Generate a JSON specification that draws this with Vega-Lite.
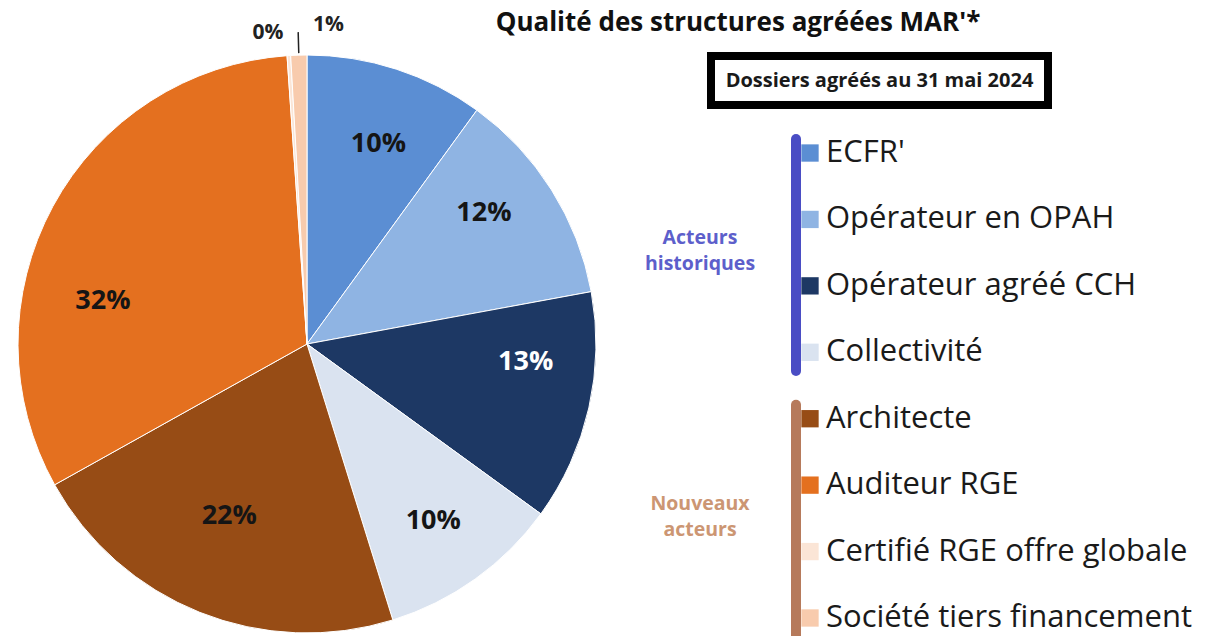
{
  "$schema": "https://vega.github.io/schema/vega-lite/v6.json",
  "padding": {"top": 10, "left": 0, "right": 0, "bottom": 0},
  "background": "white",
  "spacing": 0,
  "bounds": "flush",
  "config": {"view": {"stroke": null}, "font": "Open Sans"},
  "datasets": {
    "shares": [
      {"cat": "ECFR'", "share": 0.100, "k": 1},
      {"cat": "Opérateur en OPAH", "share": 0.121, "k": 2},
      {"cat": "Opérateur agréé CCH", "share": 0.129, "k": 3},
      {"cat": "Collectivité", "share": 0.102, "k": 4},
      {"cat": "Architecte", "share": 0.217, "k": 5},
      {"cat": "Auditeur RGE", "share": 0.320, "k": 6},
      {"cat": "Certifié RGE offre globale", "share": 0.002, "k": 7},
      {"cat": "Société tiers financement", "share": 0.009, "k": 8}
    ],
    "groups": [
      {"group": "Acteurs\nhistoriques", "first": "ECFR'", "last": "Collectivité", "anchor": "Opérateur en OPAH"},
      {"group": "Nouveaux\nacteurs", "first": "Architecte", "last": "Société tiers financement", "anchor": "Auditeur RGE"}
    ],
    "note": [{"note": "Dossiers agréés au 31 mai 2024"}]
  },
  "resolve": {"scale": {"color": "shared"}},
  "hconcat": [
    {
      "width": 614,
      "height": 576,
      "data": {"name": "shares"},
      "encoding": {
        "theta": {"field": "share", "type": "quantitative", "stack": true},
        "order": {"field": "k", "type": "quantitative"},
        "color": {
          "field": "cat",
          "type": "nominal",
          "scale": {
            "domain": ["ECFR'", "Opérateur en OPAH", "Opérateur agréé CCH", "Collectivité", "Architecte", "Auditeur RGE", "Certifié RGE offre globale", "Société tiers financement"],
            "range": ["#5b8ed3", "#8fb4e3", "#1d3864", "#dae3f0", "#974c15", "#e4701f", "#fbe5d6", "#f8cbad"]
          },
          "legend": null
        },
        "text": {"field": "share", "type": "quantitative", "format": ".0%"}
      },
      "layer": [
        {"mark": {"type": "arc", "outerRadius": 289, "stroke": "white", "strokeWidth": 1}},
        {
          "mark": {"type": "arc", "innerRadius": 291, "outerRadius": 312, "padAngle": 1, "stroke": "#222222", "strokeWidth": 1.5, "fillOpacity": 0},
          "encoding": {
            "strokeOpacity": {"condition": {"test": "datum.k === 8", "value": 1}, "value": 0}
          }
        },
        {
          "mark": {"type": "text", "radius": 215, "fontSize": 27, "fontWeight": "bold", "font": "Open Sans", "dx": 5, "dy": 4},
          "encoding": {"color": {"value": "#151515"}, "opacity": {"condition": {"test": "datum.k === 1", "value": 1}, "value": 0}}
        },
        {
          "mark": {"type": "text", "radius": 215, "fontSize": 27, "fontWeight": "bold", "font": "Open Sans", "dx": -5, "dy": -16},
          "encoding": {"color": {"value": "#151515"}, "opacity": {"condition": {"test": "datum.k === 2", "value": 1}, "value": 0}}
        },
        {
          "mark": {"type": "text", "radius": 215, "fontSize": 27, "fontWeight": "bold", "font": "Open Sans", "dx": 9, "dy": -30},
          "encoding": {"color": {"value": "white"}, "opacity": {"condition": {"test": "datum.k === 3", "value": 1}, "value": 0}}
        },
        {
          "mark": {"type": "text", "radius": 215, "fontSize": 27, "fontWeight": "bold", "font": "Open Sans", "dx": 1, "dy": 2},
          "encoding": {"color": {"value": "#151515"}, "opacity": {"condition": {"test": "datum.k === 4", "value": 1}, "value": 0}}
        },
        {
          "mark": {"type": "text", "radius": 215, "fontSize": 27, "fontWeight": "bold", "font": "Open Sans", "dx": 2, "dy": -28},
          "encoding": {"color": {"value": "#151515"}, "opacity": {"condition": {"test": "datum.k === 5", "value": 1}, "value": 0}}
        },
        {
          "mark": {"type": "text", "radius": 215, "fontSize": 27, "fontWeight": "bold", "font": "Open Sans", "dx": -15, "dy": 59},
          "encoding": {"color": {"value": "#151515"}, "opacity": {"condition": {"test": "datum.k === 6", "value": 1}, "value": 0}}
        },
        {
          "mark": {"type": "text", "radius": 270, "fontSize": 21, "fontWeight": "bold", "font": "Open Sans", "align": "center", "dx": -22, "dy": -42},
          "encoding": {"color": {"value": "#222222"}, "opacity": {"condition": {"test": "datum.k === 7", "value": 1}, "value": 0}}
        },
        {
          "mark": {"type": "text", "radius": 270, "fontSize": 21, "fontWeight": "bold", "font": "Open Sans", "align": "center", "dx": 29, "dy": -49},
          "encoding": {"color": {"value": "#222222"}, "opacity": {"condition": {"test": "datum.k === 8", "value": 1}, "value": 0}}
        }
      ]
    },
    {
      "title": {"text": "Qualité des structures agréées MAR'*", "fontSize": 26, "font": "Open Sans", "fontWeight": "bold", "color": "#111111", "anchor": "middle", "frame": "group", "dx": 124, "offset": 16},
      "spacing": 16,
      "center": true,
      "bounds": "flush",
      "vconcat": [
        {
          "width": 337,
          "height": 49,
          "view": {"stroke": "black", "strokeWidth": 8},
          "data": {"name": "note"},
          "mark": {"type": "text", "fontSize": 20, "fontWeight": "bold", "font": "Open Sans", "color": "#1a1a1a"},
          "encoding": {"text": {"field": "note", "type": "nominal"}}
        },
        {
          "width": 531,
          "height": 529,
          "layer": [
            {
              "data": {"name": "groups"},
              "mark": {"type": "rule", "x": 182, "strokeWidth": 10, "strokeCap": "round"},
              "encoding": {
                "y": {"field": "first", "type": "nominal", "bandPosition": 0.2, "scale": {"type": "band", "domain": ["ECFR'", "Opérateur en OPAH", "Opérateur agréé CCH", "Collectivité", "Architecte", "Auditeur RGE", "Certifié RGE offre globale", "Société tiers financement"], "paddingInner": 0.3, "paddingOuter": 0.132}, "axis": null},
                "y2": {"field": "last", "bandPosition": 0.9},
                "color": {"condition": {"test": "indexof(datum.group, 'Acteurs') === 0", "value": "#4a4dc4"}, "value": "#b67a5b"}
              }
            },
            {
              "data": {"name": "groups"},
              "mark": {"type": "text", "x": 86, "align": "center", "baseline": "middle", "fontSize": 19.5, "fontWeight": "bold", "font": "Open Sans", "lineBreak": "\n", "lineHeight": 26},
              "encoding": {
                "y": {"field": "anchor", "type": "nominal", "bandPosition": 0.9},
                "text": {"field": "group", "type": "nominal"},
                "color": {"condition": {"test": "indexof(datum.group, 'Acteurs') === 0", "value": "#5d5fcb"}, "value": "#cc9673"}
              }
            },
            {
              "data": {"name": "shares"},
              "mark": {"type": "point", "shape": "square", "filled": true, "opacity": 1, "size": 300, "x": 196},
              "encoding": {
                "y": {"field": "cat", "type": "nominal"},
                "color": {"field": "cat", "type": "nominal", "legend": null}
              }
            },
            {
              "data": {"name": "shares"},
              "mark": {"type": "text", "x": 212, "align": "left", "baseline": "middle", "fontSize": 31, "font": "Open Sans"},
              "encoding": {
                "y": {"field": "cat", "type": "nominal"},
                "text": {"field": "cat", "type": "nominal"},
                "color": {"value": "#1a1a1a"}
              }
            }
          ]
        }
      ]
    }
  ]
}
